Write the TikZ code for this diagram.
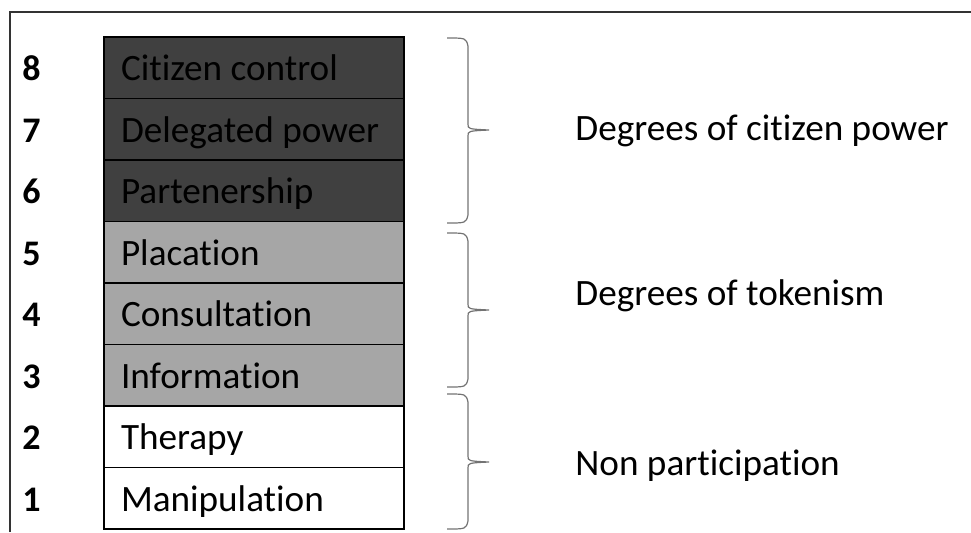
\documentclass[tikz,border=0pt]{standalone}
\usepackage{fontspec}
\setmainfont{Carlito}[Ligatures=CommonOff]
\definecolor{dark}{HTML}{404040}
\definecolor{mid}{HTML}{A6A6A6}
\begin{document}
\begin{tikzpicture}[x=0.5pt,y=-0.5pt,
		every node/.style={font=\fontsize{18.6}{22}\selectfont},
		rung/.style={draw=black,line width=0.75pt,minimum width=150pt,minimum height=30.75pt,
			text width=133pt,align=flush left,inner xsep=8.5pt,inner ysep=0pt,text height=15pt,text depth=2pt},
		num/.style={anchor=base west,inner sep=0pt,font=\fontsize{18}{22}\selectfont\bfseries},
		brace/.style={draw=black!55,line width=0.6pt},
		level/.style={anchor=base west,inner sep=0pt}]
				\useasboundingbox (0,0) rectangle (971,532);
				\draw[color=black!80,line width=1.1pt] (10,532)--(10,12)--(971,12);
				% the ladder
				\foreach \i/\txt/\col in {8/Citizen control/dark,7/Delegated power/dark,6/Partenership/dark,
					5/Placation/mid,4/Consultation/mid,3/Information/mid,2/Therapy/white,1/Manipulation/white}{
					\pgfmathsetmacro{\ym}{37+(8-\i)*61.5+30.75}
					\node[rung,fill=\col] (r\i) at (254,\ym) {\txt};
					\node[num] (n\i) at (22,{\ym+13}) {\i};
				}
				% braces
				\foreach \t/\m/\b in {38/130/223,233/310/387,394/462/529}{
					\draw[brace] (447,\t) .. controls (466,\t) .. (468,{\t+8}) -- (468,{\m-6})
						.. controls (468,{\m-1}) .. (489,\m) .. controls (468,{\m+1}) .. (468,{\m+6})
						-- (468,{\b-8}) .. controls (466,\b) .. (447,\b);
				}
				\node[level] (power) at (575,140) {Degrees of citizen power};
				\node[level] (token) at (575,305) {Degrees of tokenism};
				\node[level] (nonp) at (575,475) {Non participation};
		\end{tikzpicture}
\end{document}
